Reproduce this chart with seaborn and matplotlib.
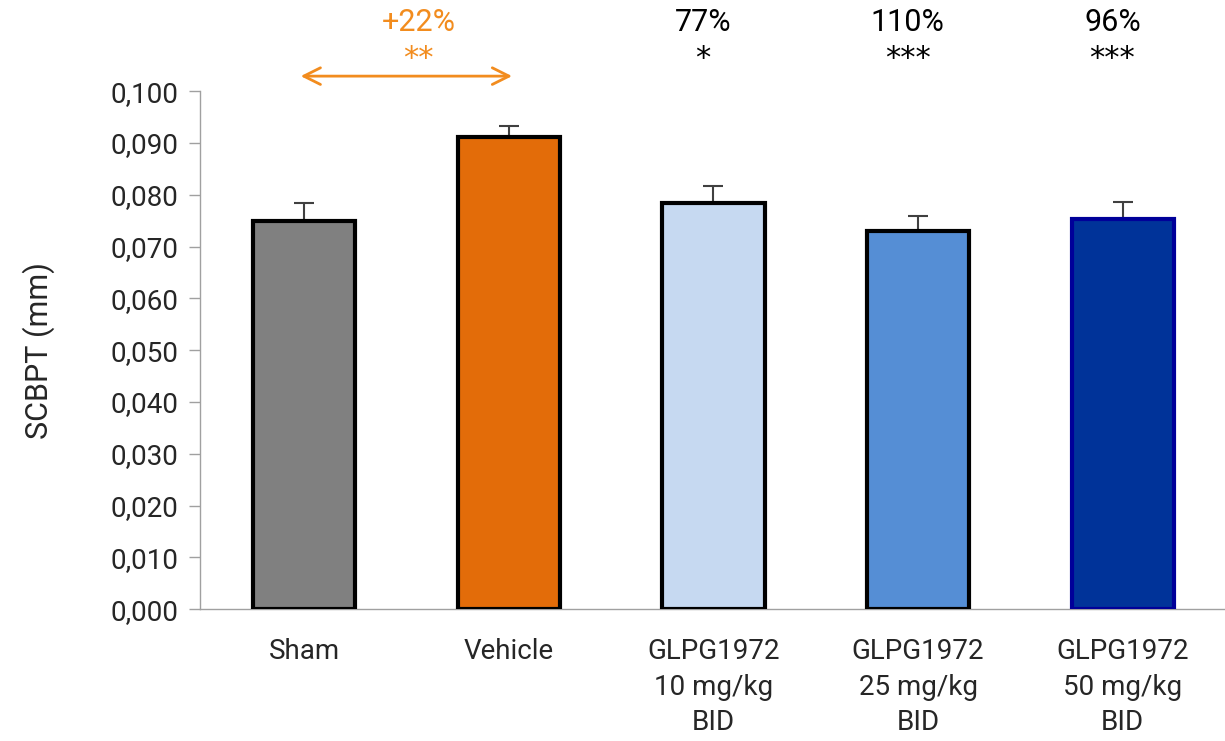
import numpy as np
import pandas as pd
import matplotlib
matplotlib.use("Agg")
import matplotlib.pyplot as plt
import seaborn as sns

# ── Data ─────────────────────────────────────────────────────────────────────
groups = ["Sham", "Vehicle", "GLPG1972\n10 mg/kg\nBID",
          "GLPG1972\n25 mg/kg\nBID", "GLPG1972\n50 mg/kg\nBID"]
means = [0.0749, 0.0912, 0.0785, 0.0730, 0.0754]
sem = [0.0036, 0.0021, 0.0032, 0.0029, 0.0032]
pct_labels = ["", "+22%", "77%", "110%", "96%"]
star_labels = ["", "**", "*", "***", "***"]

fills = ["#808080", "#E36C09", "#C6D9F1", "#558ED5", "#003399"]
edges = ["#000000", "#000000", "#000000", "#000000", "#000099"]
ORANGE = "#F28C1E"

# ── Style ────────────────────────────────────────────────────────────────────
sns.set_theme(style="white")
plt.rcParams["font.family"] = ["Roboto", "DejaVu Sans"]

df = pd.DataFrame({"group": groups, "value": means})

fig = plt.figure(figsize=(12.25, 7.41), dpi=100)
ax = fig.add_axes([0.163, 0.178, 0.837, 0.699])

sns.barplot(data=df, x="group", y="value", hue="group", palette=fills,
            saturation=1, width=0.5, linewidth=3, edgecolor="black",
            legend=False, zorder=3, ax=ax)
for patch, ec in zip(ax.patches, edges):
    patch.set_edgecolor(ec)

xs = np.arange(len(groups))
ax.errorbar(xs, means, yerr=[np.zeros(len(sem)), sem], fmt="none",
            ecolor="#404040", elinewidth=1.5, capsize=7, capthick=1.5,
            zorder=2)

yt = np.arange(0, 0.1001, 0.010)
ax.set_ylim(0, 0.100)
ax.set_xlim(-0.51, 4.41)
ax.set_yticks(yt)
ax.set_yticklabels([f"{v:.3f}".replace(".", ",") for v in yt], fontsize=20)
ax.set_xticks(xs)
ax.set_xticklabels(groups, fontsize=20, linespacing=1.4)
ax.set_xticks(np.arange(-0.5, 4.6, 1.0), minor=True)
ax.tick_params(axis="x", which="major", length=0, pad=21)
ax.tick_params(axis="x", which="minor", length=10, width=1, color="#A0A0A0",
               direction="out")
ax.tick_params(axis="y", length=8, width=1, color="#A0A0A0", direction="out",
               left=True, pad=7)
ax.set_xlabel("")
ax.set_ylabel("SCBPT (mm)", fontsize=22, labelpad=40)

for side in ["top", "right"]:
    ax.spines[side].set_visible(False)
for side in ["left", "bottom"]:
    ax.spines[side].set_color("#A0A0A0")
    ax.spines[side].set_linewidth(1)

# ── Annotations ──────────────────────────────────────────────────────────────
for i, (p, s) in enumerate(zip(pct_labels, star_labels)):
    if not p:
        continue
    col = ORANGE if i == 1 else "black"
    xpos = 0.56 if i == 1 else i - 0.05
    ax.text(xpos, 0.1133, p, ha="center", va="center", fontsize=22,
            color=col, clip_on=False)
    ax.text(xpos, 0.1063, s, ha="center", va="center", fontsize=22,
            color=col, clip_on=False, family="DejaVu Sans")

ax.annotate("", xy=(1.03, 0.1029), xytext=(-0.03, 0.1029),
            arrowprops=dict(arrowstyle="<->", color=ORANGE, lw=2,
                            mutation_scale=30),
            annotation_clip=False)

plt.savefig("out.png", dpi=100)
